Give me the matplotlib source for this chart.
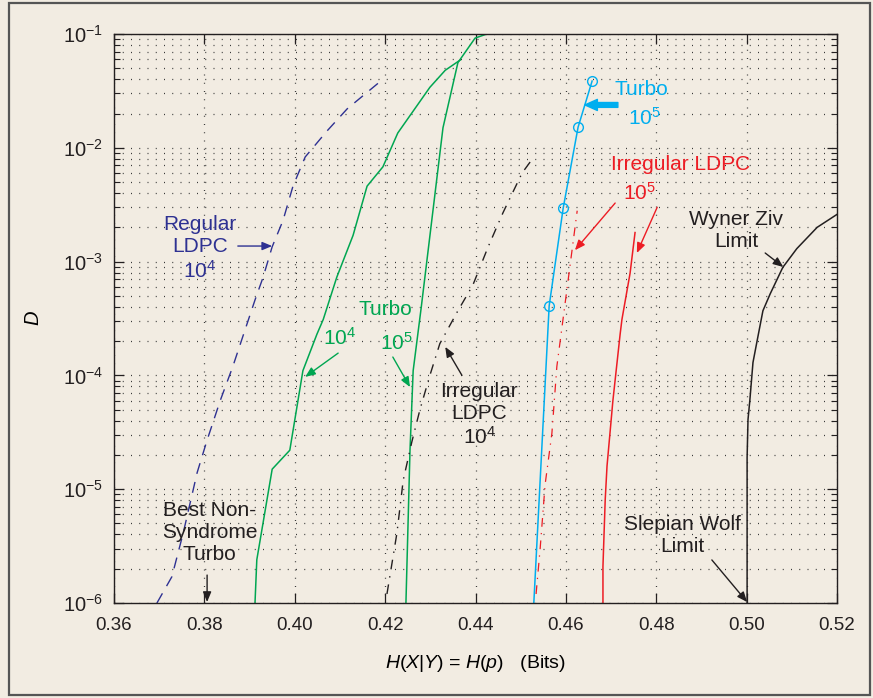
import matplotlib.pyplot as plt
from matplotlib.patches import Rectangle
from matplotlib.ticker import LogLocator, FixedLocator

plt.rcParams['font.family'] = ['Liberation Sans', 'DejaVu Sans']
plt.rcParams['mathtext.fontset'] = 'custom'
plt.rcParams['mathtext.rm'] = 'Liberation Sans'
plt.rcParams['mathtext.it'] = 'Liberation Sans:italic'

bg = '#f2ece2'
c_blue = '#2e3192'
c_green = '#00a651'
c_cyan = '#00aeef'
c_red = '#ed1c24'
c_black = '#231f20'

# Regular LDPC 10^4 (dashed blue)
reg_x = [0.3695, 0.3728, 0.3753, 0.3784, 0.3806, 0.3835, 0.3863, 0.3912, 0.3930,
         0.3950, 0.3974, 0.3996, 0.4023, 0.4071, 0.4116, 0.4195]
reg_d = [1.0e-6, 1.7e-6, 4.1e-6, 1.4e-5, 2.7e-5, 6.0e-5, 1.2e-4, 4.6e-4, 7.3e-4,
         1.35e-3, 2.3e-3, 4.6e-3, 8.3e-3, 1.4e-2, 2.2e-2, 4.0e-2]

# Turbo 10^4 (green)
t4_x = [0.3912, 0.3916, 0.3950, 0.3989, 0.4018, 0.4049, 0.4063, 0.4093, 0.4129,
        0.4160, 0.4195, 0.4228, 0.4299, 0.4333, 0.4366]
t4_d = [1.0e-6, 2.4e-6, 1.5e-5, 2.2e-5, 1.1e-4, 2.3e-4, 3.1e-4, 7.3e-4, 1.7e-3,
        4.6e-3, 6.8e-3, 1.35e-2, 3.4e-2, 4.8e-2, 5.9e-2]

# Turbo 10^5 (green)
t5_x = [0.4246, 0.4255, 0.4262, 0.4280, 0.4328, 0.4361, 0.4399, 0.4425]
t5_d = [1.0e-6, 2.2e-5, 1.1e-4, 4.0e-4, 1.5e-2, 5.6e-2, 9.2e-2, 1.0e-1]

# Irregular LDPC 10^4 (black dash-dot)
irr4_x = [0.4204, 0.4226, 0.4240, 0.4259, 0.4277, 0.4299, 0.4321, 0.4361, 0.4394,
          0.4428, 0.4461, 0.4503, 0.4527]
irr4_d = [1.2e-6, 4.1e-6, 1.2e-5, 2.6e-5, 5.0e-5, 1.0e-4, 1.9e-4, 3.7e-4, 6.2e-4,
          1.35e-3, 2.7e-3, 6.0e-3, 8.1e-3]

# Syndrome Turbo 10^5 (cyan, circles)
st5_x = [0.4529, 0.4563, 0.4594, 0.4627, 0.4658]
st5_d = [1.0e-6, 4.1e-4, 2.95e-3, 1.52e-2, 3.86e-2]

# Irregular LDPC 10^5 (red dash-dot)
irr5a_x = [0.4534, 0.4543, 0.4554, 0.4569, 0.4580, 0.4603, 0.4625]
irr5a_d = [1.2e-6, 3.0e-6, 1.1e-5, 3.1e-5, 1.2e-4, 6.0e-4, 2.8e-3]

# Irregular LDPC 10^5 (red solid)
irr5b_x = [0.4682, 0.4682, 0.4687, 0.4691, 0.4704, 0.4720, 0.4724, 0.4742, 0.4753]
irr5b_d = [1.0e-6, 2.1e-6, 8.1e-6, 1.6e-5, 6.0e-5, 2.3e-4, 3.1e-4, 7.9e-4, 1.8e-3]

# Slepian Wolf / Wyner Ziv limit (black)
lim_x = [0.5001, 0.5001, 0.5003, 0.5007, 0.5014, 0.5023, 0.5036, 0.5052, 0.5080,
         0.5111, 0.5156, 0.5200]
lim_d = [1.0e-6, 1.9e-5, 4.1e-5, 6.0e-5, 1.3e-4, 2.0e-4, 3.7e-4, 5.2e-4, 8.9e-4,
         1.3e-3, 2.0e-3, 2.6e-3]

x_ticks = [0.36, 0.38, 0.40, 0.42, 0.44, 0.46, 0.48, 0.50, 0.52]
x_labels = ['0.36', '0.38', '0.40', '0.42', '0.44', '0.46', '0.48', '0.50', '0.52']

fig = plt.figure(figsize=(8.73, 6.98), dpi=100, facecolor=bg)
ax = fig.add_axes([0.1306, 0.1361, 0.8282, 0.8152])
ax.set_facecolor(bg)
fig.patches.append(Rectangle((0.0103, 0.0043), 0.986, 0.991, transform=fig.transFigure,
                             fill=False, ec='#555555', lw=1.6))

ax.set_yscale('log')
ax.set_xlim(0.36, 0.52)
ax.set_ylim(1e-6, 1e-1)

grid_ls = (0, (0.8, 5.8))
ax.grid(True, which='major', axis='x', color='#3a3a3a', ls=grid_ls, lw=0.9)
ax.grid(True, which='both', axis='y', color='#3a3a3a', ls=grid_ls, lw=0.9)

ax.plot(reg_x, reg_d, color=c_blue, lw=1.0, ls=(0, (8, 6)))
ax.plot(t4_x, t4_d, color=c_green, lw=1.1)
ax.plot(t5_x, t5_d, color=c_green, lw=1.1)
ax.plot(irr4_x, irr4_d, color=c_black, lw=1.0, ls=(0, (7, 5, 1, 5)))
ax.plot(st5_x, st5_d, color=c_cyan, lw=1.1, marker='o', mfc='none', mec=c_cyan,
        ms=7, mew=1.0, markevery=[1, 2, 3, 4])
ax.plot(irr5a_x, irr5a_d, color=c_red, lw=0.9, ls=(0, (7, 5, 1, 5)))
ax.plot(irr5b_x, irr5b_d, color=c_red, lw=1.1)
ax.plot(lim_x, lim_d, color=c_black, lw=1.1, clip_on=False)

ax.xaxis.set_major_locator(FixedLocator(x_ticks))
ax.set_xticklabels(x_labels)
ax.yaxis.set_major_locator(LogLocator(base=10, numticks=10))
ax.yaxis.set_minor_locator(LogLocator(base=10, subs=range(2, 10), numticks=10))
ax.tick_params(which='both', direction='in', top=True, right=True, colors=c_black)
ax.tick_params(which='major', length=7, width=0.9)
ax.tick_params(axis='x', which='major', pad=10, labelsize=13.5)
ax.tick_params(axis='y', which='major', pad=8, labelsize=14.5)
ax.tick_params(which='minor', length=4, width=0.8)
for s in ax.spines.values():
    s.set_color(c_black)
    s.set_linewidth(1.0)

ax.set_ylabel('$D$', fontsize=14.5, labelpad=14)
ax.set_xlabel('$H(X|Y)$ = $H(p)$   (Bits)', fontsize=14, labelpad=14)

fs = 15
ls = 1.2


def arrow(tail, head, color, lw=1.0, hw=0.25, hl=0.6):
    ax.annotate('', xy=head, xytext=tail,
                arrowprops=dict(arrowstyle='-|>,head_width=%s,head_length=%s' % (hw, hl),
                                color=color, lw=lw, shrinkA=0, shrinkB=0))


ax.text(0.3790, 1.3e-3, 'Regular\nLDPC\n10$^4$', color=c_blue, fontsize=fs,
        ha='center', va='center', linespacing=ls)
arrow((0.3874, 1.37e-3), (0.3950, 1.37e-3), c_blue)

ax.text(0.4200, 3.76e-4, 'Turbo', color=c_green, fontsize=fs, ha='center', va='center')
ax.text(0.4100, 2.14e-4, '10$^4$', color=c_green, fontsize=fs, ha='center', va='center')
ax.text(0.4226, 1.93e-4, '10$^5$', color=c_green, fontsize=fs, ha='center', va='center')
arrow((0.4096, 1.57e-4), (0.4023, 9.7e-5), c_green)
arrow((0.4217, 1.45e-4), (0.4255, 7.9e-5), c_green)

ax.text(0.4408, 4.5e-5, 'Irregular\nLDPC\n10$^4$', color=c_black, fontsize=fs,
        ha='center', va='center', linespacing=ls)
arrow((0.4370, 1.0e-4), (0.4333, 1.78e-4), c_black)

ax.text(0.4768, 3.22e-2, 'Turbo', color=c_cyan, fontsize=fs, ha='center', va='center')
ax.text(0.4773, 1.83e-2, '10$^5$', color=c_cyan, fontsize=fs, ha='center', va='center')
ax.annotate('', xy=(0.4642, 2.38e-2), xytext=(0.4715, 2.38e-2),
            arrowprops=dict(arrowstyle='simple,head_length=0.9,head_width=0.8,tail_width=0.35',
                            color=c_cyan, shrinkA=0, shrinkB=0))

ax.text(0.4853, 7.2e-3, 'Irregular LDPC', color=c_red, fontsize=fs, ha='center', va='center')
ax.text(0.4762, 4.0e-3, '10$^5$', color=c_red, fontsize=fs, ha='center', va='center')
arrow((0.4709, 3.27e-3), (0.4620, 1.26e-3), c_red)
arrow((0.4802, 3.0e-3), (0.4757, 1.19e-3), c_red)

ax.text(0.4977, 1.87e-3, 'Wyner Ziv\nLimit', color=c_black, fontsize=fs,
        ha='center', va='center', linespacing=ls)
arrow((0.5041, 1.19e-3), (0.5081, 8.97e-4), c_black)

ax.text(0.4857, 3.92e-6, 'Slepian Wolf\nLimit', color=c_black, fontsize=fs,
        ha='center', va='center', linespacing=ls)
arrow((0.4923, 2.39e-6), (0.5001, 1.02e-6), c_black)

ax.text(0.3812, 4.2e-6, 'Best Non-\nSyndrome\nTurbo', color=c_black, fontsize=fs,
        ha='center', va='center', linespacing=ls)
arrow((0.3806, 1.76e-6), (0.3806, 1.02e-6), c_black)

fig.savefig('out.png', dpi=100, facecolor=bg)
